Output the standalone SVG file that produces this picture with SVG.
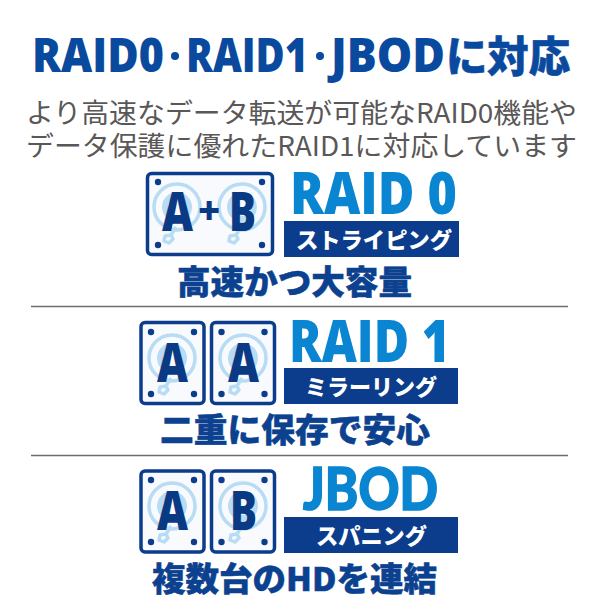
<svg xmlns="http://www.w3.org/2000/svg" xmlns:xlink="http://www.w3.org/1999/xlink" width="600" height="600" viewBox="0 0 600 600">
<style>
.ja{font-family:"Noto Sans CJK JP","Noto Sans",sans-serif}
.lat{font-family:"Open Sans","Noto Sans",sans-serif;font-weight:800}
.lato{font-family:"Lato","Open Sans",sans-serif;font-weight:900;stroke:#0a85d1;stroke-width:1.6}
.title{fill:#0a4a9e}
.tl{font-size:48px}
.tj{font-weight:900;font-size:42px;stroke:#0a4a9e;stroke-width:.6}
.sub{font-weight:400;fill:#595757;font-size:27px}
.big{fill:#0a85d1;font-size:59px}
.band{fill:#0b3d8c}
.bandt{font-weight:900;fill:#fff;font-size:22px}
.cap{font-weight:900;fill:#0b418f;font-size:33.5px;stroke:#0b418f;stroke-width:.5}
.letter{fill:#0b3a85;font-size:54px}
.case{fill:#f8fafd;stroke:#0b3d8c;stroke-width:3.5}
.sep{stroke:#6e6e6e;stroke-width:1.6}
.screw{fill:#0b3d8c}
</style>
<defs>
<g id="platter" fill="none" stroke="#b8dcf3">
<circle r="23" stroke-width="3.5"/>
<circle r="12" stroke-width="6"/>
<path d="M-1 20 L-6 28 M-6 28 L-12 29 L-13 34 L-8 36 L-4 32 Z" stroke-width="3.5" stroke-linejoin="round"/>
</g>
<g id="screws4" class="screw">
<circle cx="-21.5" cy="-31" r="3.2"/><circle cx="21.5" cy="-31" r="3.2"/>
<circle cx="-21.5" cy="31" r="3.2"/><circle cx="21.5" cy="31" r="3.2"/>
</g>
</defs>

<g id="heading">
<text class="lat title tl" x="32" y="72" textLength="132" lengthAdjust="spacingAndGlyphs">RAID0</text>
<circle class="title" cx="175" cy="56" r="4"/>
<text class="lat title tl" x="186" y="72" textLength="122" lengthAdjust="spacingAndGlyphs">RAID1</text>
<circle class="title" cx="320" cy="56" r="4"/>
<text class="lat title tl" x="331" y="72" textLength="114" lengthAdjust="spacingAndGlyphs">JBOD</text>
<text class="ja title tj" x="446" y="72" textLength="124" lengthAdjust="spacingAndGlyphs">に対応</text>
<text class="ja sub" x="26" y="123" textLength="551" lengthAdjust="spacingAndGlyphs">より高速なデータ転送が可能なRAID0機能や</text>
<text class="ja sub" x="26" y="156" textLength="551" lengthAdjust="spacingAndGlyphs">データ保護に優れたRAID1に対応しています</text>
</g>

<g id="raid0">
<rect class="case" x="147.5" y="173.500" width="125" height="81" rx="4"/>
<g class="screw"><circle cx="158" cy="182" r="3.200"/><circle cx="262" cy="182" r="3.200"/><circle cx="158" cy="245" r="3.200"/><circle cx="262" cy="245" r="3.200"/></g>
<use xlink:href="#platter" href="#platter" x="177" y="207"/>
<use xlink:href="#platter" href="#platter" x="242" y="207"/>
<text class="lat letter" x="162" y="231" textLength="31" lengthAdjust="spacingAndGlyphs">A</text>
<text class="lat letter" x="198" y="224" style="font-size:38px">+</text>
<text class="lat letter" x="229" y="231" textLength="27" lengthAdjust="spacingAndGlyphs">B</text>
<text class="lat big" x="290" y="214" textLength="167" lengthAdjust="spacingAndGlyphs">RAID 0</text>
<rect class="band" x="284" y="221" width="175" height="36"/>
<text class="ja bandt" x="296" y="248" textLength="156" lengthAdjust="spacingAndGlyphs">ストライピング</text>
<text class="ja cap" x="177" y="294" textLength="235" lengthAdjust="spacingAndGlyphs">高速かつ大容量</text>
</g>

<line class="sep" x1="31" y1="306.500" x2="568" y2="306.500"/>

<g id="raid1">
<rect class="case" x="141" y="322.500" width="63" height="81" rx="4"/>
<rect class="case" x="211.500" y="322.500" width="63" height="81" rx="4"/>
<use xlink:href="#screws4" href="#screws4" x="172.500" y="363"/>
<use xlink:href="#screws4" href="#screws4" x="243" y="363"/>
<use xlink:href="#platter" href="#platter" x="172" y="358"/>
<use xlink:href="#platter" href="#platter" x="243" y="358"/>
<text class="lat letter" x="157" y="382" textLength="31" lengthAdjust="spacingAndGlyphs">A</text>
<text class="lat letter" x="228" y="382" textLength="31" lengthAdjust="spacingAndGlyphs">A</text>
<text class="lat big" x="289" y="362" textLength="161" lengthAdjust="spacingAndGlyphs">RAID 1</text>
<rect class="band" x="284" y="368" width="174" height="36"/>
<text class="ja bandt" x="305" y="395" textLength="132" lengthAdjust="spacingAndGlyphs">ミラーリング</text>
<text class="ja cap" x="160" y="442" textLength="270" lengthAdjust="spacingAndGlyphs">二重に保存で安心</text>
</g>

<line class="sep" x1="31" y1="455.500" x2="568" y2="455.500"/>

<g id="jbod">
<rect class="case" x="141" y="471" width="63" height="81" rx="4"/>
<rect class="case" x="211.500" y="471" width="63" height="81" rx="4"/>
<use xlink:href="#screws4" href="#screws4" x="172.500" y="511"/>
<use xlink:href="#screws4" href="#screws4" x="243" y="511"/>
<use xlink:href="#platter" href="#platter" x="172" y="506"/>
<use xlink:href="#platter" href="#platter" x="243" y="506"/>
<text class="lat letter" x="157" y="530" textLength="31" lengthAdjust="spacingAndGlyphs">A</text>
<text class="lat letter" x="230" y="530" textLength="27" lengthAdjust="spacingAndGlyphs">B</text>
<text class="lato big" x="303" y="510" textLength="135" lengthAdjust="spacingAndGlyphs">JBOD</text>
<rect class="band" x="284" y="517" width="174" height="36"/>
<text class="ja bandt" x="316" y="544" textLength="111" lengthAdjust="spacingAndGlyphs">スパニング</text>
<text class="ja cap" x="152" y="590.500" style="font-size:32.5px" textLength="285" lengthAdjust="spacingAndGlyphs">複数台のHDを連結</text>
</g>
</svg>
